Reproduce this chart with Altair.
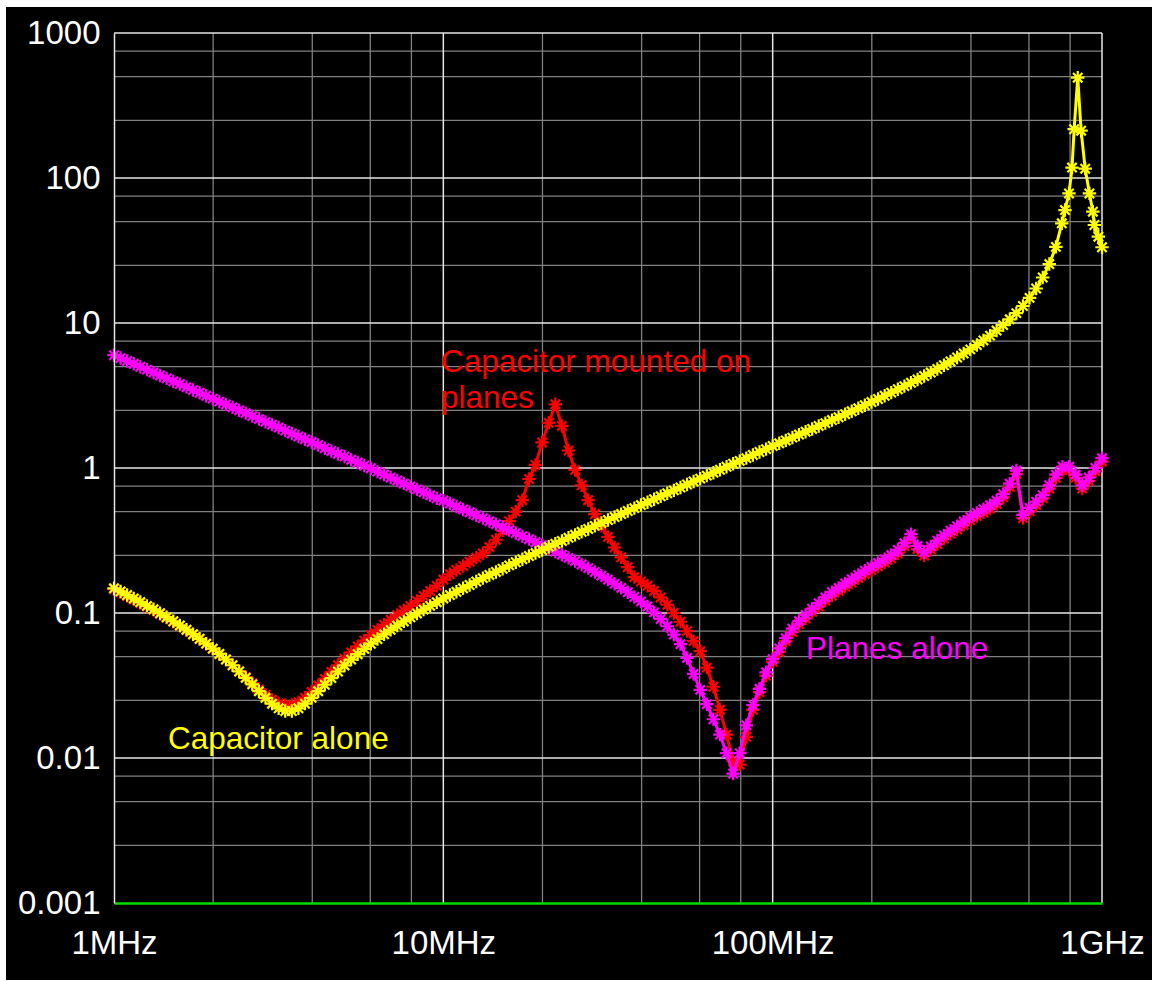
import altair as alt
import pandas as pd

# Frequency grid shared by the three traces (MHz)
freq_mhz = [
    1.000, 1.047, 1.096, 1.148, 1.202, 1.259, 1.318, 1.380, 1.445, 1.514,
    1.585, 1.660, 1.738, 1.820, 1.905, 1.995, 2.089, 2.188, 2.291, 2.399,
    2.512, 2.630, 2.754, 2.884, 3.020, 3.162, 3.311, 3.467, 3.631, 3.802,
    3.981, 4.169, 4.365, 4.571, 4.786, 5.012, 5.248, 5.495, 5.754, 6.026,
    6.310, 6.607, 6.918, 7.244, 7.586, 7.943, 8.318, 8.710, 9.120, 9.550,
    10.00, 10.47, 10.96, 11.48, 12.02, 12.59, 13.18, 13.80, 14.45, 15.14,
    15.85, 16.60, 17.38, 18.20, 19.05, 19.95, 20.89, 21.88, 22.91, 23.99,
    25.12, 26.30, 27.54, 28.84, 30.20, 31.62, 33.11, 34.67, 36.31, 38.02,
    39.81, 41.69, 43.65, 45.71, 47.86, 50.12, 52.48, 54.95, 57.54, 60.26,
    63.10, 66.07, 69.18, 72.44, 75.86, 79.43, 83.18, 87.10, 91.20, 95.50,
    100.0, 104.7, 109.6, 114.8, 120.2, 125.9, 131.8, 138.0, 144.5, 151.4,
    158.5, 166.0, 173.8, 182.0, 190.5, 199.5, 208.9, 218.8, 229.1, 239.9,
    251.2, 263.0, 275.4, 288.4, 302.0, 316.2, 331.1, 346.7, 363.1, 380.2,
    398.1, 416.9, 436.5, 457.1, 478.6, 501.2, 524.8, 549.5, 575.4, 602.6,
    631.0, 660.7, 691.8, 724.4, 758.6, 794.3, 831.8, 871.0, 912.0, 955.0,
    1000.0,
]

# Capacitor alone (ohms), up to 724 MHz on the shared grid
cap_alone_ohm = [
    0.148, 0.141, 0.133, 0.126, 0.119, 0.112, 0.106, 0.0996, 0.0936, 0.0877,
    0.0821, 0.0767, 0.0714, 0.0664, 0.0615, 0.0568, 0.0522, 0.0478, 0.0436, 0.0395,
    0.0357, 0.0322, 0.0289, 0.0260, 0.0237, 0.0220, 0.0211, 0.0211, 0.0220, 0.0237,
    0.0260, 0.0289, 0.0320, 0.0356, 0.0395, 0.0435, 0.0477, 0.0520, 0.0566, 0.0614,
    0.0662, 0.0713, 0.0765, 0.0819, 0.0875, 0.0933, 0.0993, 0.1055, 0.112, 0.1187,
    0.126, 0.133, 0.140, 0.148, 0.156, 0.165, 0.174, 0.183, 0.192, 0.202,
    0.213, 0.224, 0.235, 0.247, 0.259, 0.272, 0.286, 0.300, 0.314, 0.330,
    0.346, 0.363, 0.380, 0.399, 0.418, 0.438, 0.459, 0.481, 0.505, 0.529,
    0.555, 0.581, 0.609, 0.638, 0.669, 0.701, 0.734, 0.770, 0.807, 0.845,
    0.886, 0.928, 0.973, 1.02, 1.07, 1.12, 1.17, 1.23, 1.29, 1.35,
    1.42, 1.48, 1.55, 1.62, 1.70, 1.78, 1.86, 1.95, 2.04, 2.14,
    2.24, 2.35, 2.46, 2.58, 2.71, 2.85, 2.99, 3.15, 3.31, 3.49,
    3.67, 3.87, 4.08, 4.31, 4.55, 4.82, 5.11, 5.43, 5.78, 6.16,
    6.58, 7.05, 7.58, 8.18, 8.87, 9.67, 10.6, 11.7, 13.1, 14.9,
    17.3, 20.6, 25.5, 33.5,
]
# Capacitor alone around its self-resonance near 1 GHz
cap_peak_mhz = [755, 772, 794, 811, 823, 844, 864, 889, 916, 938, 948, 975, 1000]
cap_peak_ohm = [48.7, 60.1, 78.3, 118, 217, 492, 212, 116, 78.3, 58.6, 47.4, 39.4, 33.3]

# Planes alone (ohms)
planes_ohm = [
    6.00, 5.73, 5.47, 5.23, 4.99, 4.77, 4.55, 4.35, 4.15, 3.96,
    3.79, 3.61, 3.45, 3.30, 3.15, 3.01, 2.87, 2.74, 2.62, 2.50,
    2.39, 2.28, 2.18, 2.08, 1.99, 1.90, 1.81, 1.73, 1.65, 1.58,
    1.51, 1.44, 1.37, 1.31, 1.25, 1.20, 1.14, 1.09, 1.04, 0.996,
    0.944, 0.901, 0.860, 0.820, 0.783, 0.747, 0.712, 0.680, 0.648, 0.618,
    0.596, 0.569, 0.543, 0.518, 0.495, 0.472, 0.451, 0.430, 0.410, 0.391,
    0.373, 0.356, 0.339, 0.323, 0.308, 0.293, 0.279, 0.265, 0.252, 0.240,
    0.228, 0.216, 0.204, 0.192, 0.181, 0.170, 0.159, 0.149, 0.139, 0.129,
    0.120, 0.111, 0.101, 0.091, 0.081, 0.071, 0.061, 0.049, 0.038, 0.0295,
    0.0235, 0.0185, 0.0145, 0.0108, 0.0078, 0.0108, 0.0168, 0.0232, 0.030, 0.039,
    0.048, 0.057, 0.067, 0.078, 0.088, 0.097, 0.107, 0.117, 0.128, 0.139,
    0.149, 0.160, 0.171, 0.183, 0.196, 0.208, 0.221, 0.235, 0.251, 0.272,
    0.303, 0.350, 0.290, 0.262, 0.288, 0.315, 0.343, 0.370, 0.397, 0.427,
    0.460, 0.490, 0.520, 0.553, 0.595, 0.660, 0.780, 0.960, 0.475, 0.530,
    0.585, 0.650, 0.760, 0.900, 1.02, 1.02, 0.90, 0.76, 0.86, 1.00,
    1.17,
]

# Capacitor mounted on the planes (ohms)
mounted_ohm = [
    0.146, 0.139, 0.131, 0.124, 0.117, 0.111, 0.105, 0.0985, 0.0927, 0.087,
    0.0815, 0.0762, 0.0710, 0.0661, 0.0613, 0.0567, 0.0522, 0.0479, 0.0437, 0.0398,
    0.0362, 0.0328, 0.0298, 0.0272, 0.0252, 0.0238, 0.0231, 0.0232, 0.0242, 0.0260,
    0.0285, 0.0316, 0.0351, 0.0392, 0.0436, 0.0484, 0.0535, 0.0588, 0.0644, 0.0703,
    0.0765, 0.0830, 0.0897, 0.0968, 0.104, 0.112, 0.121, 0.131, 0.142, 0.154,
    0.170, 0.185, 0.198, 0.211, 0.226, 0.241, 0.258, 0.285, 0.320, 0.370,
    0.430, 0.500, 0.600, 0.840, 1.05, 1.50, 2.05, 2.75, 1.95, 1.32,
    0.97, 0.76, 0.60, 0.48, 0.40, 0.335, 0.283, 0.242, 0.207, 0.177,
    0.165, 0.154, 0.142, 0.128, 0.114, 0.100, 0.087, 0.075, 0.064, 0.0545,
    0.042, 0.031, 0.0215, 0.0145, 0.0095, 0.0090, 0.0140, 0.0215, 0.0285, 0.037,
    0.046, 0.054, 0.064, 0.074, 0.084, 0.092, 0.102, 0.111, 0.122, 0.132,
    0.142, 0.152, 0.162, 0.174, 0.186, 0.198, 0.210, 0.223, 0.238, 0.258,
    0.288, 0.333, 0.276, 0.249, 0.274, 0.299, 0.326, 0.352, 0.377, 0.406,
    0.437, 0.466, 0.494, 0.525, 0.565, 0.627, 0.741, 0.912, 0.451, 0.504,
    0.556, 0.618, 0.722, 0.855, 0.969, 0.969, 0.855, 0.722, 0.817, 0.950,
    1.11,
]

# Axis ticks and grid
x_ticks = [1, 10, 100, 1000]
x_tick_labels = ["1MHz", "10MHz", "100MHz", "1GHz"]
y_ticks = [0.001, 0.01, 0.1, 1, 10, 100, 1000]
y_tick_labels = ["0.001", "0.01", "0.1", "1", "10", "100", "1000"]
x_major_grid = [10, 100, 1000]
x_minor_grid = [2, 4, 6, 8, 20, 40, 60, 80, 200, 400, 600, 800]
y_major_grid = [0.01, 0.1, 1, 10, 100, 1000]
y_minor_grid = [0.0025, 0.005, 0.0075, 0.025, 0.05, 0.075, 0.25, 0.5, 0.75,
                2.5, 5, 7.5, 25, 50, 75, 250, 500, 750]

# Trace labels and their anchor points (MHz, ohms)
label_text = ["Capacitor alone", "Capacitor mounted on\nplanes", "Planes alone"]
label_mhz = [1.459, 9.84, 126.3]
label_ohm = [0.01153, 4.59, 0.0482]

YELLOW = "#ffff00"
RED = "#ff0000"
MAGENTA = "#ff00ff"
FONT = "Liberation Sans"
STAR = "M-1,0L1,0M0,-1L0,1M-0.7,-0.7L0.7,0.7M-0.7,0.7L0.7,-0.7"


def expr_from(values, labels):
    parts = [f"datum.value == {v} ? '{t}'" for v, t in zip(values, labels)]
    return " : ".join(parts) + " : ''"


x_scale = alt.Scale(type="log", domain=[1, 1000], nice=False)
y_scale = alt.Scale(type="log", domain=[0.001, 1000], nice=False)

x_axis = alt.Axis(values=x_ticks, labelExpr=expr_from(x_ticks, x_tick_labels),
                  title=None, grid=False, ticks=False, tickSize=0,
                  domainColor="#00dd00", domainWidth=2.5,
                  labelFont=FONT, labelFontSize=33, labelColor="white",
                  labelPadding=24, labelFlush=False, labelOverlap=False,
                  labelBound=False, zindex=1)
y_axis = alt.Axis(values=y_ticks, labelExpr=expr_from(y_ticks, y_tick_labels),
                  title=None, grid=False, ticks=False, tickSize=0,
                  domainColor="#e6e6e6", domainWidth=1.5,
                  labelFont=FONT, labelFontSize=33, labelColor="white",
                  labelPadding=14, labelFlush=False, labelOverlap=False,
                  labelBound=False, zindex=1)

X = alt.X("f:Q", scale=x_scale, axis=x_axis)
Y = alt.Y("v:Q", scale=y_scale, axis=y_axis)

# Black panel behind everything
panel = alt.Chart(pd.DataFrame({"a": [0]})).mark_rect(color="black").encode(
    x=alt.value(-108), x2=alt.value(1038), y=alt.value(-26), y2=alt.value(947)
)

vminor = alt.Chart(pd.DataFrame({"f": x_minor_grid})).mark_rule(
    color="#808080", strokeWidth=1.3).encode(x=X)
hminor = alt.Chart(pd.DataFrame({"v": y_minor_grid})).mark_rule(
    color="#808080", strokeWidth=1.3).encode(y=Y)
vmajor = alt.Chart(pd.DataFrame({"f": x_major_grid})).mark_rule(
    color="#e6e6e6", strokeWidth=1.5).encode(x=X)
hmajor = alt.Chart(pd.DataFrame({"v": y_major_grid})).mark_rule(
    color="#e6e6e6", strokeWidth=1.5).encode(y=Y)


def trace(freqs, values, color):
    df = pd.DataFrame({"f": freqs, "v": values})
    line = alt.Chart(df).mark_line(color=color, strokeWidth=3, clip=False).encode(x=X, y=Y)
    pts = alt.Chart(df).mark_point(shape=STAR, size=180, filled=False, color=color,
                                   strokeWidth=2.2, opacity=1, clip=False).encode(x=X, y=Y)
    return [line, pts]


layers = [panel, vminor, hminor, vmajor, hmajor]
layers += trace(freq_mhz, mounted_ohm, RED)
layers += trace(freq_mhz, planes_ohm, MAGENTA)
layers += trace(freq_mhz[:len(cap_alone_ohm)] + cap_peak_mhz,
                cap_alone_ohm + cap_peak_ohm, YELLOW)

for text, f, v, color in zip(label_text, label_mhz, label_ohm, [YELLOW, RED, MAGENTA]):
    layers.append(
        alt.Chart(pd.DataFrame({"f": [f], "v": [v], "t": [text]})).mark_text(
            align="left", baseline="alphabetic", font=FONT, fontSize=31.5,
            color=color, lineBreak="\n", lineHeight=36
        ).encode(x=X, y=Y, text="t:N")
    )

chart = alt.layer(*layers).properties(
    width=988, height=870,
    background="white",
    padding={"left": 114, "top": 33, "right": 50, "bottom": 78},
    autosize=alt.AutoSizeParams(type="none"),
).configure_view(stroke="transparent")

chart.save("out.html", embed_options={"renderer": "svg", "actions": False})
